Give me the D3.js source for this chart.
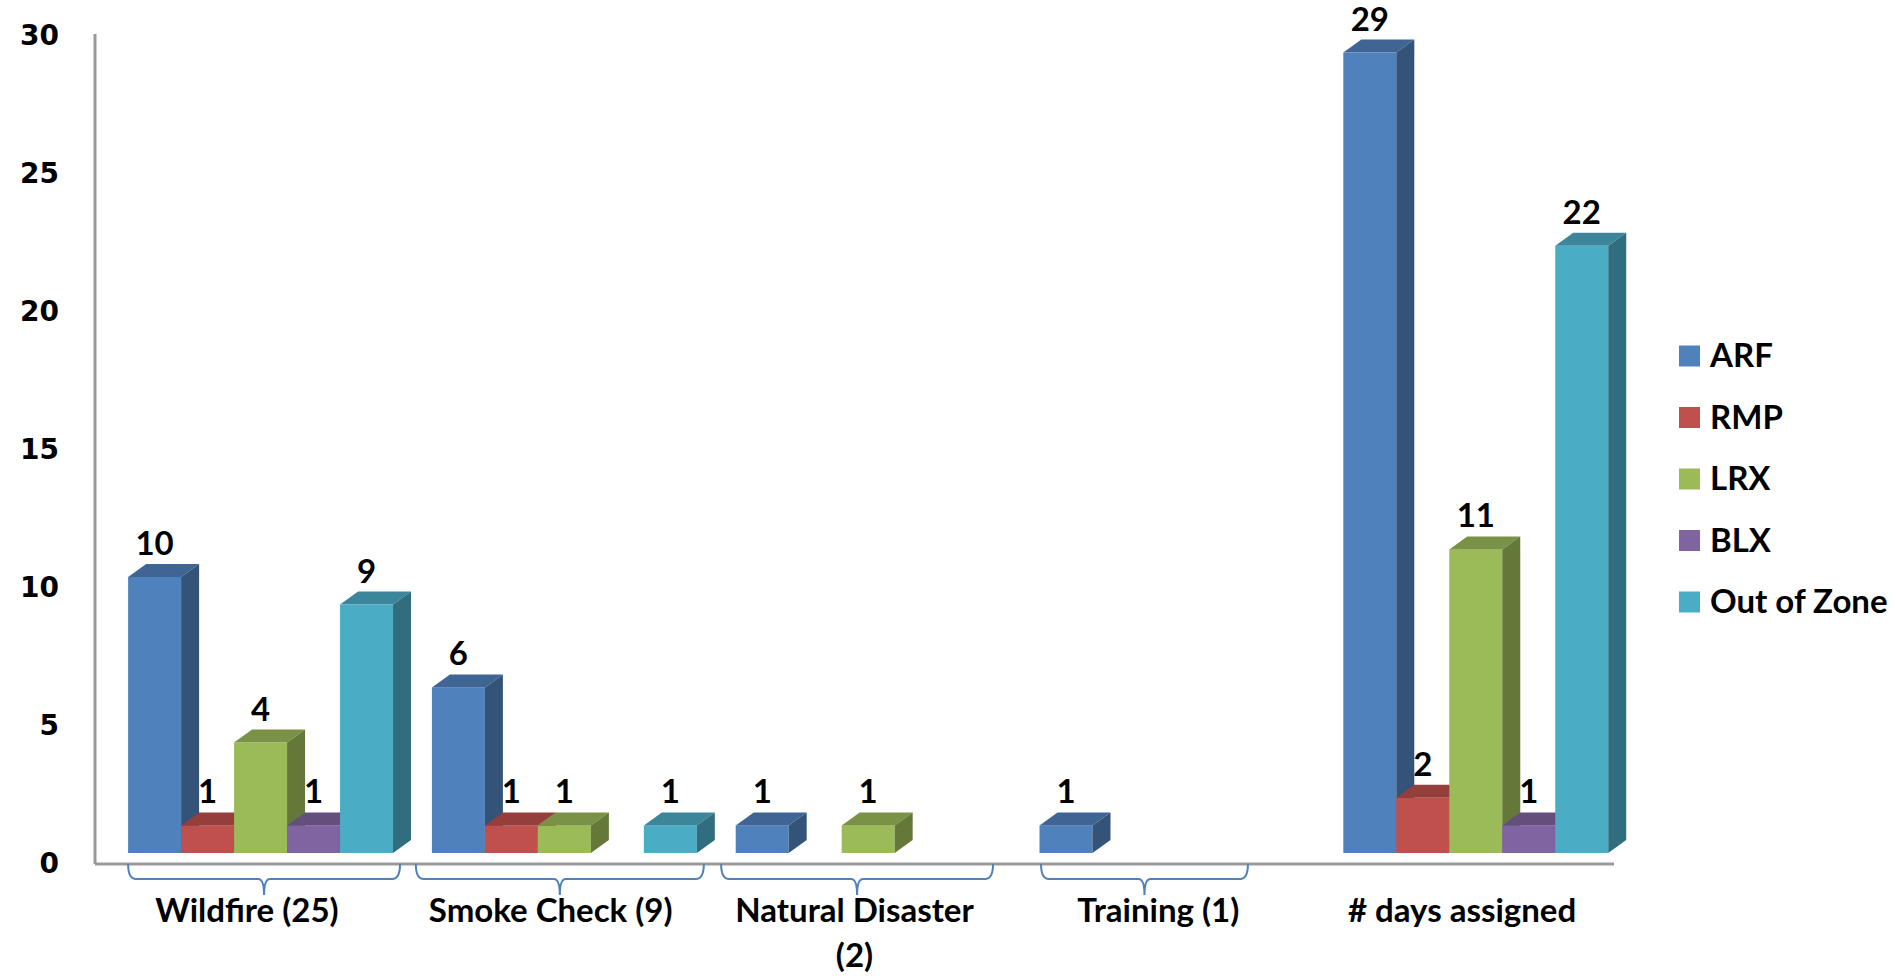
<!DOCTYPE html>
<html>
<head>
<meta charset="utf-8">
<script src="https://cdn.jsdelivr.net/npm/d3@7"></script>
<style>
  html, body { margin: 0; padding: 0; background: #ffffff; }
  svg { display: block; }
</style>
</head>
<body>
<svg id="chart" width="1903" height="976"></svg>
<script>
// ---- data ----
const categories = ["Wildfire (25)", "Smoke Check (9)", "Natural Disaster (2)", "Training (1)", "# days assigned"];
const seriesNames = ["ARF", "RMP", "LRX", "BLX", "Out of Zone"];
const ARF       = [10, 6, 1, 1, 29];
const RMP       = [1, 1, 0, 0, 2];
const LRX       = [4, 1, 1, 0, 11];
const BLX       = [1, 0, 0, 0, 1];
const OutOfZone = [9, 1, 0, 0, 22];
const yTicks = [0, 5, 10, 15, 20, 25, 30];
// category groups marked by a brace under the axis (band fractions)
const braceCats  = ["Wildfire (25)", "Smoke Check (9)", "Natural Disaster (2)", "Training (1)"];
const braceFrom  = [0.109, 0.056, 0.061, 0.114];
const braceTo    = [1.004, 1.004, 0.956, 0.795];

const seriesValues = [ARF, RMP, LRX, BLX, OutOfZone];
const colors = ["#4F81BD", "#C0504D", "#9BBB59", "#8064A2", "#4BACC6"];

// ---- layout ----
const svg = d3.select("#chart");
const x = d3.scaleBand().domain(categories).range([95, 1614]).padding(0);
const bw = x.bandwidth();
const xs = d3.scaleBand().domain(seriesNames).range([bw * 0.109, bw * 0.981]).padding(0);
const y = d3.scaleLinear().domain([0, 30]).range([864, 36]);
const color = d3.scaleOrdinal().domain(seriesNames).range(colors);

const FRONT = 11;   // front face offset (3D floor)
const DX = 18, DY = 13; // depth

function shade(c, k) {
  const r = d3.rgb(c);
  return d3.rgb(r.r * k, r.g * k, r.b * k).formatHex();
}

// ---- axes ----
const yAxis = d3.axisLeft(y).tickValues(yTicks).tickSize(0).tickPadding(36);
const gy = svg.append("g").attr("transform", "translate(95,0)").call(yAxis);
gy.select(".domain").attr("stroke", "#9a9a9a").attr("stroke-width", 3)
  .attr("d", `M0,${y(30) - 2}V${y(0)}`);
gy.selectAll("text")
  .attr("font-family", "'DejaVu Sans', Verdana, sans-serif")
  .attr("font-weight", "bold")
  .attr("font-size", 28)
  .attr("fill", "#000");

const gx = svg.append("g").attr("transform", `translate(0,${y(0)})`)
  .call(d3.axisBottom(x).tickSize(0).tickFormat(""));
gx.select(".domain").attr("stroke", "#9a9a9a").attr("stroke-width", 3)
  .attr("d", `M95,0H1614`);

// ---- bars (3D prisms) ----
const records = [];
categories.forEach((cat, ci) => {
  seriesNames.forEach((s, si) => {
    records.push({ cat, s, v: seriesValues[si][ci] });
  });
});
const barData = records.filter(d => d.v > 0);

const bars = svg.append("g").selectAll("g.bar").data(barData).join("g").attr("class", "bar");
bars.each(function (d) {
  const g = d3.select(this);
  const x0 = x(d.cat) + xs(d.s);
  const w = xs.bandwidth();
  const yt = y(d.v) - FRONT;
  const yb = y(0) - FRONT;
  const c = color(d.s);
  g.append("rect").attr("x", x0).attr("y", yt).attr("width", w).attr("height", yb - yt).attr("fill", c);
  g.append("path")
    .attr("d", `M${x0},${yt}L${x0 + w},${yt}L${x0 + w + DX},${yt - DY}L${x0 + DX},${yt - DY}Z`)
    .attr("fill", shade(c, 0.78));
  g.append("path")
    .attr("d", `M${x0 + w},${yt}L${x0 + w + DX},${yt - DY}L${x0 + w + DX},${yb - DY}L${x0 + w},${yb}Z`)
    .attr("fill", shade(c, 0.64));
});

// ---- value labels ----
svg.append("g").selectAll("text").data(barData).join("text")
  .attr("x", d => x(d.cat) + xs(d.s) + xs.bandwidth() / 2)
  .attr("y", d => y(d.v) - FRONT - DY - 9)
  .attr("text-anchor", "middle")
  .attr("font-family", "Lato, 'Open Sans', sans-serif")
  .attr("font-weight", "bold")
  .attr("font-size", 33)
  .attr("fill", "#000")
  .text(d => d.v);

// ---- braces ----
const braceY0 = y(0), braceY1 = y(0) + 15, braceY2 = y(0) + 31;
svg.append("g").selectAll("path").data(braceCats).join("path")
  .attr("d", (c, i) => {
    const x1 = x(c) + bw * braceFrom[i];
    const x2 = x(c) + bw * braceTo[i];
    const m = (x1 + x2) / 2;
    return `M${x1},${braceY0}Q${x1},${braceY1} ${x1 + 8},${braceY1}L${m - 6},${braceY1}` +
      `Q${m},${braceY1} ${m},${braceY2}Q${m},${braceY1} ${m + 6},${braceY1}` +
      `L${x2 - 8},${braceY1}Q${x2},${braceY1} ${x2},${braceY0}`;
  })
  .attr("fill", "none")
  .attr("stroke", "#4F81BD")
  .attr("stroke-width", 2);

// ---- category labels (wrapped) ----
const catLabels = svg.append("g").selectAll("text").data(categories).join("text")
  .attr("x", d => x(d) + bw / 2)
  .attr("y", 922)
  .attr("text-anchor", "middle")
  .attr("font-family", "Lato, 'Open Sans', sans-serif")
  .attr("font-weight", "bold")
  .attr("font-size", 33)
  .attr("fill", "#000");
catLabels.each(function (d) {
  const t = d3.select(this);
  t.text(d);
  if (this.getComputedTextLength() > bw * 0.85) {
    t.text(null);
    const words = d.split(" ");
    const last = words.pop();
    t.append("tspan").attr("x", x(d) + bw / 2).attr("dy", 0).text(words.join(" "));
    t.append("tspan").attr("x", x(d) + bw / 2).attr("dy", 45).text(last);
  }
});

// ---- legend ----
const legend = svg.append("g").selectAll("g").data(seriesNames).join("g")
  .attr("transform", (d, i) => `translate(1679,${356 + i * 61.5})`);
legend.append("rect").attr("x", 0).attr("y", -10.5).attr("width", 21).attr("height", 21)
  .attr("fill", d => color(d));
legend.append("text").attr("x", 31).attr("y", 11)
  .attr("font-family", "Lato, 'Open Sans', sans-serif")
  .attr("font-weight", "bold")
  .attr("font-size", 33)
  .attr("fill", "#000")
  .text(d => d);
</script>
</body>
</html>
